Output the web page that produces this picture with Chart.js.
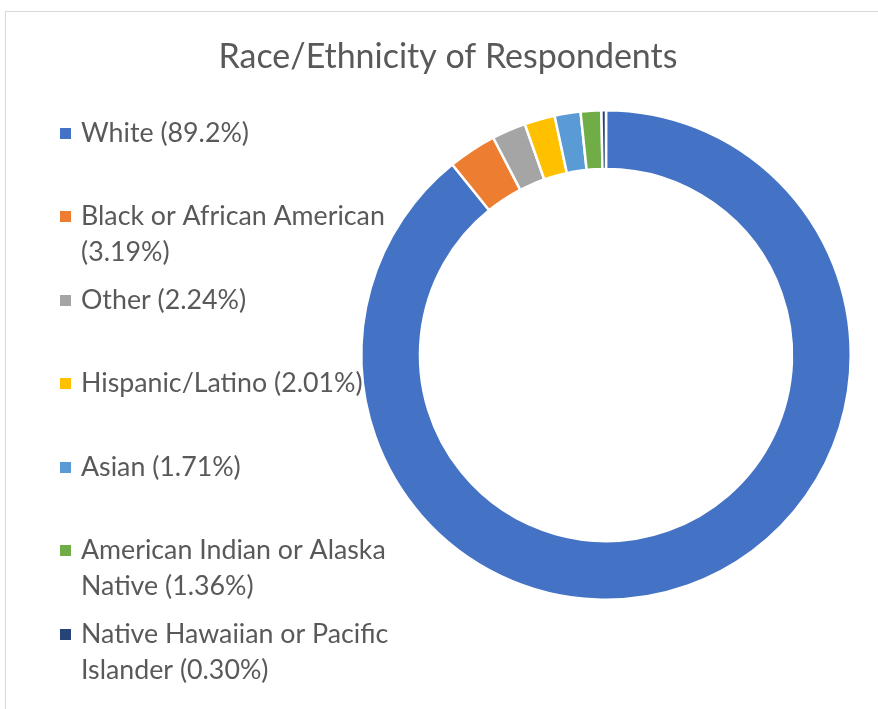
<!DOCTYPE html>
<html>
<head>
<meta charset="utf-8">
<script src="https://cdn.jsdelivr.net/npm/chart.js@4.4.1/dist/chart.umd.min.js"></script>
<style>
  html, body { margin: 0; padding: 0; background: #fff; overflow: hidden; }
  #wrap { width: 878px; height: 709px; position: relative; }
</style>
</head>
<body>
<div id="wrap"><canvas id="raceChart" width="878" height="709"></canvas></div>
<script>
const chartTitle = "Race/Ethnicity of Respondents";
const categories = [
  "White",
  "Black or African American",
  "Other",
  "Hispanic/Latino",
  "Asian",
  "American Indian or Alaska Native",
  "Native Hawaiian or Pacific Islander"
];
const shares = [89.2, 3.19, 2.24, 2.01, 1.71, 1.36, 0.30];
const sliceColors = ["#4472C4", "#ED7D31", "#A5A5A5", "#FFC000", "#5B9BD5", "#70AD47", "#264478"];

const fontFamily = "Lato, 'Open Sans', sans-serif";
const textColor = "#595959";

function fmtShare(v) {
  return v >= 10 ? v.toFixed(1) : v.toFixed(2);
}

// fit a font size so a sample string has a given pixel width
function fitFont(ctx, sample, targetWidth) {
  ctx.font = "100px " + fontFamily;
  const w = ctx.measureText(sample).width;
  return 100 * targetWidth / w;
}

function wrapText(ctx, text, maxWidth) {
  const words = text.split(" ");
  const lines = [];
  let line = "";
  words.forEach(word => {
    const test = line ? line + " " + word : word;
    if (ctx.measureText(test).width > maxWidth && line) {
      lines.push(line);
      line = word;
    } else {
      line = test;
    }
  });
  if (line) lines.push(line);
  return lines;
}

const frameAndLegend = {
  id: "frameAndLegend",
  beforeDraw(chart) {
    const ctx = chart.ctx;
    ctx.save();
    ctx.strokeStyle = "#d9d9d9";
    ctx.lineWidth = 1;
    ctx.strokeRect(5.5, 11.5, 1000, 1000);
    ctx.restore();
  },
  afterDraw(chart) {
    const ctx = chart.ctx;
    const labels = chart.data.labels;
    const data = chart.data.datasets[0].data;
    const colors = chart.data.datasets[0].backgroundColor;
    ctx.save();

    // title
    const titleSize = fitFont(ctx, chartTitle, 459);
    ctx.font = titleSize + "px " + fontFamily;
    ctx.fillStyle = textColor;
    ctx.textAlign = "center";
    ctx.textBaseline = "middle";
    ctx.fillText(chartTitle, 448, 57);

    // legend
    const legSize = fitFont(ctx, "Black or African American", 304);
    ctx.font = legSize + "px " + fontFamily;
    ctx.textAlign = "left";
    const firstY = 133, stepY = 83.5, lineH = 36;
    labels.forEach((lab, i) => {
      const y = firstY + i * stepY;
      ctx.fillStyle = colors[i];
      ctx.fillRect(60, Math.round(y - 5.5), 11, 11);
      ctx.fillStyle = textColor;
      const lines = wrapText(ctx, lab + " (" + fmtShare(data[i]) + "%)", 330);
      lines.forEach((ln, j) => ctx.fillText(ln, 81, y + j * lineH));
    });
    ctx.restore();
  }
};

new Chart(document.getElementById("raceChart"), {
  type: "doughnut",
  data: {
    labels: categories,
    datasets: [{
      data: shares,
      backgroundColor: sliceColors,
      borderColor: "#ffffff",
      borderWidth: 2.5,
      hoverOffset: 0
    }]
  },
  options: {
    responsive: false,
    animation: false,
    cutout: "76%",
    rotation: 0,
    layout: {
      padding: { left: 360, right: 26, top: 109, bottom: 108 }
    },
    plugins: {
      legend: { display: false },
      title: { display: false },
      tooltip: { enabled: false }
    }
  },
  plugins: [frameAndLegend]
});
</script>
</body>
</html>
